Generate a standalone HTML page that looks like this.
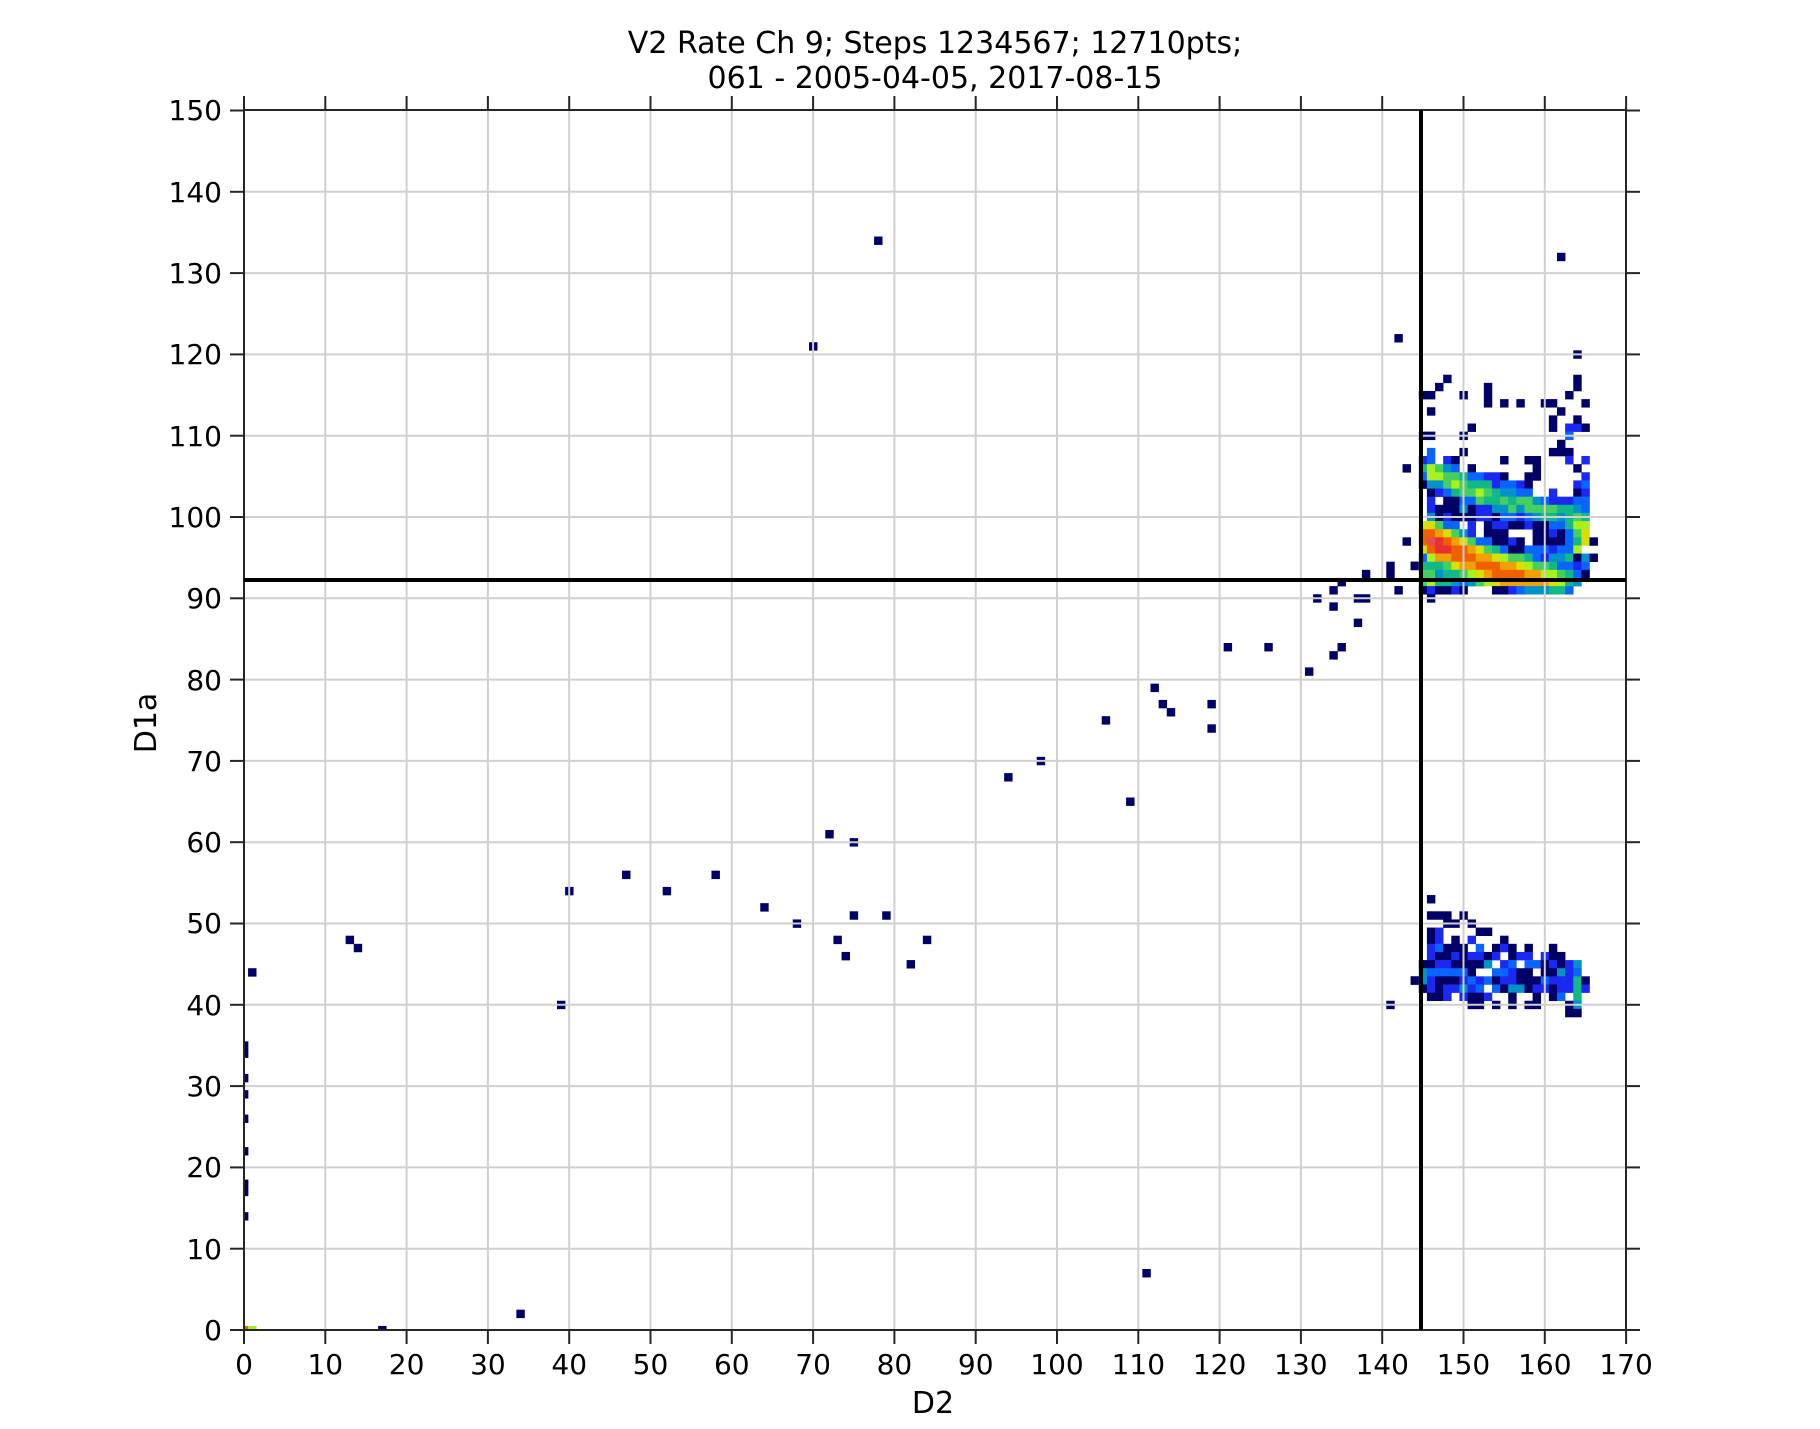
<!DOCTYPE html>
<html><head><meta charset="utf-8"><style>
html,body{margin:0;padding:0;background:#fff}
svg text{font-family:"DejaVu Sans","Liberation Sans",sans-serif;fill:#000}
</style></head><body>
<svg id="s" width="1820" height="1424" viewBox="0 0 1820 1424" xmlns="http://www.w3.org/2000/svg">
<defs><clipPath id="cp"><rect x="244" y="110" width="1382" height="1220"/></clipPath></defs>
<g id="cells" clip-path="url(#cp)"></g>
<g id="grid" stroke="#d0d0d0" stroke-width="2"></g>
<g id="ticks" stroke="#262626" stroke-width="2"></g>
<rect x="244" y="110" width="1382" height="1220" fill="none" stroke="#262626" stroke-width="2"/>
<line x1="244" y1="580" x2="1626" y2="580" stroke="#000" stroke-width="4"/>
<line x1="1421" y1="110" x2="1421" y2="1330" stroke="#000" stroke-width="4"/>
<text x="935" y="53" font-size="30" text-anchor="middle">V2 Rate Ch 9; Steps 1234567; 12710pts;</text>
<text x="935" y="88" font-size="30" text-anchor="middle">061 - 2005-04-05, 2017-08-15</text>
<text x="933" y="1413" font-size="30" text-anchor="middle">D2</text>
<text transform="translate(156,723) rotate(-90)" font-size="30" text-anchor="middle">D1a</text>
<g font-size="28" text-anchor="middle">
<text x="244.0" y="1374">0</text><text x="325.3" y="1374">10</text><text x="406.6" y="1374">20</text><text x="487.9" y="1374">30</text><text x="569.2" y="1374">40</text><text x="650.5" y="1374">50</text><text x="731.8" y="1374">60</text><text x="813.1" y="1374">70</text><text x="894.4" y="1374">80</text><text x="975.7" y="1374">90</text><text x="1057.0" y="1374">100</text><text x="1138.3" y="1374">110</text><text x="1219.6" y="1374">120</text><text x="1300.9" y="1374">130</text><text x="1382.2" y="1374">140</text><text x="1463.5" y="1374">150</text><text x="1544.8" y="1374">160</text><text x="1626.1" y="1374">170</text>
</g>
<g font-size="28" text-anchor="end">
<text x="222" y="1340">0</text><text x="222" y="1259">10</text><text x="222" y="1177">20</text><text x="222" y="1096">30</text><text x="222" y="1015">40</text><text x="222" y="933">50</text><text x="222" y="852">60</text><text x="222" y="771">70</text><text x="222" y="690">80</text><text x="222" y="608">90</text><text x="222" y="527">100</text><text x="222" y="446">110</text><text x="222" y="364">120</text><text x="222" y="283">130</text><text x="222" y="202">140</text><text x="222" y="120">150</text>
</g>
</svg>
<script>
(function(){
var NS="http://www.w3.org/2000/svg",K=8.13;
function X(c){return 244+K*c}function Y(r){return 1330-K*r}
var col={D:"#000066",B:"#1a28f0",L:"#0a64ff",C:"#0092c8",T:"#12b888",G:"#44d060",Y:"#a8f020",y:"#d8e000",O:"#f0a000",o:"#f06000",R:"#e83030",P:"#e05050"};
var g=document.getElementById("cells");
function cell(c,r,k){var e=document.createElementNS(NS,"rect");e.setAttribute("x",(X(c)-K/2).toFixed(2));e.setAttribute("y",(Y(r)-K/2).toFixed(2));e.setAttribute("width",K+0.3);e.setAttribute("height",K+0.3);e.setAttribute("fill",col[k]);g.appendChild(e);}
function row(r,c0,s){for(var i=0;i<s.length;i++){if(s[i]!="_")cell(c0+i,r,s[i]);}}
var pts=[[78,134],[70,121],[162,132],[142,122],[164,120],[143,106],[143,97],[138,93],[135,92],[134,91],[132,90],[137,90],[138,90],[134,89],[137,87],[121,84],[126,84],[135,84],[134,83],[131,81],[112,79],[113,77],[119,77],[114,76],[106,75],[119,74],[98,70],[94,68],[109,65],[72,61],[75,60],[47,56],[58,56],[40,54],[52,54],[64,52],[75,51],[79,51],[68,50],[13,48],[73,48],[84,48],[14,47],[74,46],[82,45],[1,44],[39,40],[141,40],[34,2],[17,0],[111,7],[0,35],[0,34],[0,31],[0,29],[0,26],[0,22],[0,18],[0,17],[0,14],[141,94],[141,93],[142,91],[144,94],[144,43],
[148,117],[164,117],[147,116],[164,116],[153,116],[145,115],[146,115],[150,115],[153,115],[163,115],[153,114],[155,114],[157,114],[160,114],[161,114],[165,114],[146,113],[162,113],[161,112],[151,111],[161,111],[165,111],[145,110],[146,110],[150,110],[162,109],[162,108]];
pts.forEach(function(p){cell(p[0],p[1],"D")});
cell(0,0,"o");cell(1,0,"Y");cell(163,111,"B");cell(164,111,"B");cell(163,110,"L");cell(164,112,"D");
row(108,145,"_L___D__________D_D");
row(107,145,"BL_BD_____D__DD___B_B");
row(106,145,"TYGCL_D_______D____D");
row(105,145,"LYYGGTLLBBD__DD_____B");
row(104,145,"DCCGYGTTTBLLBD_____BL");
row(103,145,"_DBLTGGYGTCCLL__B__DB");
row(102,145,"_B_DDLLGTTGTGGCLBBBLL");
row(101,145,"_BDDDCDBBCCGCGGGGTTCL");
row(100,145,"_CDBDDDBBDLLBLCTTCTGT");
row(99,145,"yyGLL_B_DBBDDBDDLLTYY");
row(98,145,"ooOyGCB_DDD___DDBDLGy");
row(97,145,"oPRoOyGLLDDBD_DDDDLTyD");
row(96,145,"yoRRooOyGTLDDLLLBLLY");
row(95,145,"LYOOoooOOyYGGTLBCCTDCD");
row(94,144,"DTTTGyOOoooOOyYGGTLLBL");
row(93,145,"GGCTTGYyOooooOOYYGTLD");
row(92,145,"GYTTCLCGYyOOOOOOyYTC");
row(91,145,"DBDDBD___DDBLCCCTTL");
row(90,145,"_D");
row(53,146,"D");
row(51,146,"DDD_D");
row(50,148,"DD_D");
row(49,146,"DB____DD");
row(48,146,"DB_D_B___D");
row(47,146,"BLDDD_L_DBD_D__D");
row(46,146,"BDDBDBBDB_DBB_BDD");
row(45,145,"DDBBDDDDC_BL_LLDBDBC");
row(44,145,"CLLLLLD__LLBDD_DDCBL");
row(43,144,"DCBDDDBLBLDBBDDDLBBBTD");
row(42,145,"DBDBBCBL_LDCCDBBDBBTB");
row(41,146,"DDB_BDDB__D__D_DL_T");
row(40,151,"DD_D_D_DD___DC");
row(39,163,"DD");
var gr=document.getElementById("grid"),tk=document.getElementById("ticks");
function ln(p,a,b,c,d){var e=document.createElementNS(NS,"line");e.setAttribute("x1",a);e.setAttribute("y1",b);e.setAttribute("x2",c);e.setAttribute("y2",d);p.appendChild(e);}
for(var v=0;v<=170;v+=10){var x=X(v).toFixed(2);if(v>0&&v<170)ln(gr,x,110,x,1330);ln(tk,x,1330,x,1344);ln(tk,x,96,x,110);}
for(var v=0;v<=150;v+=10){var y=Y(v).toFixed(2);if(v>0&&v<150)ln(gr,244,y,1626,y);ln(tk,230,y,244,y);ln(tk,1626,y,1640,y);}
})();
</script>
</body></html>
